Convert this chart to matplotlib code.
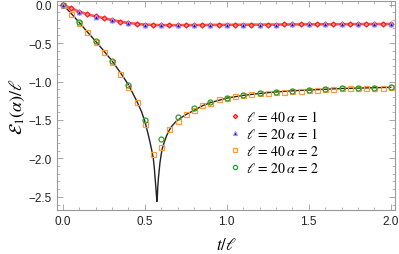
import numpy as np
import matplotlib
matplotlib.use("Agg")
from matplotlib import pyplot as plt
from matplotlib.ticker import MultipleLocator

plt.rcParams['mathtext.fontset'] = 'stix'
plt.rcParams['font.family'] = ['Liberation Sans', 'DejaVu Sans']

# ell = 40, alpha = 1 (step 0.05)
t40 = np.round(np.arange(0, 2.0001, 0.05), 2)
e40_a1 = [0.0, -0.045, -0.09, -0.125, -0.152, -0.175, -0.20, -0.22, -0.237, -0.248,
          -0.258, -0.263, -0.265, -0.266, -0.266, -0.265, -0.265, -0.264, -0.263, -0.262,
          -0.261, -0.261, -0.26, -0.259, -0.259, -0.258, -0.258, -0.257, -0.257, -0.256,
          -0.256, -0.255, -0.255, -0.254, -0.254, -0.253, -0.253, -0.252, -0.252, -0.251,
          -0.251]
# ell = 40, alpha = 2
e40_a2 = [0.0, -0.12, -0.235, -0.36, -0.48, -0.61, -0.74, -0.90, -1.07, -1.27,
          -1.55, -1.94, -1.85, -1.62, -1.51, -1.42, -1.37, -1.31, -1.28, -1.23,
          -1.21, -1.19, -1.17, -1.16, -1.15, -1.145, -1.14, -1.13, -1.125, -1.12,
          -1.11, -1.105, -1.10, -1.10, -1.09, -1.09, -1.085, -1.085, -1.08, -1.08,
          -1.075]

# ell = 20 (step 0.1)
t20 = np.round(np.arange(0, 2.0001, 0.1), 1)
e20_a1 = [0.0, -0.09, -0.155, -0.20, -0.24, -0.26, -0.267, -0.267, -0.266, -0.264,
          -0.262, -0.26, -0.259, -0.258, -0.257, -0.256, -0.255, -0.254, -0.253, -0.252,
          -0.251]
e20_a2 = [0.0, -0.23, -0.475, -0.73, -1.04, -1.50, -1.75, -1.46, -1.34, -1.27,
          -1.21, -1.17, -1.15, -1.14, -1.125, -1.11, -1.10, -1.09, -1.085, -1.08,
          -1.075]

# analytic curve (alpha = 2)
t_th = [0.0, 0.05, 0.1, 0.15, 0.2, 0.25, 0.3, 0.35, 0.4, 0.45, 0.48, 0.502, 0.52,
        0.532, 0.542, 0.552, 0.558, 0.563, 0.568, 0.571, 0.574, 0.577, 0.579, 0.583,
        0.588, 0.593, 0.6, 0.607, 0.62, 0.634, 0.65, 0.665, 0.69, 0.715, 0.75, 0.787,
        0.857, 0.9, 0.95, 1.0, 1.1, 1.2, 1.3, 1.4, 1.5, 1.6, 1.7, 1.8, 1.9, 2.0]
e_th = [0.0, -0.11, -0.23, -0.355, -0.475, -0.60, -0.73, -0.88, -1.04, -1.25, -1.39,
        -1.53, -1.68, -1.79, -1.89, -2.0, -2.12, -2.26, -2.39, -2.48, -2.56, -2.48,
        -2.38, -2.26, -2.15, -2.05, -1.95, -1.87, -1.78, -1.70, -1.63, -1.58, -1.52,
        -1.48, -1.43, -1.39, -1.31, -1.275, -1.245, -1.215, -1.18, -1.155, -1.135,
        -1.12, -1.11, -1.10, -1.09, -1.085, -1.08, -1.075]

labels = [r'$\ell\, =\, 40\, \alpha\, =\, 1$', r'$\ell\, =\, 20\, \alpha\, =\, 1$',
          r'$\ell\, =\, 40\, \alpha\, =\, 2$', r'$\ell\, =\, 20\, \alpha\, =\, 2$']

fig = plt.figure(figsize=(3.99, 2.55), dpi=100)
ax = fig.add_axes([0.143, 0.173, 0.847, 0.819])

ax.plot(t_th, e_th, color='#222222', lw=1.0, zorder=2)
ax.plot(t40, e40_a1, color='#ff3030', lw=1.9, alpha=0.8, zorder=3)

ax.plot(t40, e40_a2, 's', ms=3.6, mfc='none', mec='#ff9a3c', mew=0.9, zorder=4, label=labels[2])
ax.plot(t20, e20_a2, 'o', ms=3.6, mfc='none', mec='#2aa02a', mew=0.9, zorder=5, label=labels[3])
ax.plot(t40, e40_a1, 'D', ms=2.6, mfc='#ff9090', mec='#ff1010', mew=0.8, zorder=6, label=labels[0])
ax.plot(t20, e20_a1, '^', ms=3.4, mfc='#1010c0', mec='#9a9aff', mew=0.8, zorder=7, label=labels[1])

h, l = ax.get_legend_handles_labels()
order = [2, 3, 0, 1]
leg = ax.legend([h[i] for i in order], [l[i] for i in order], loc='upper left',
                bbox_to_anchor=(0.476, 0.545), frameon=False, fontsize=10,
                handlelength=0.6, handletextpad=0.5, labelspacing=0.2, markerscale=0.85)

ax.set_xlim(-0.035, 2.026)
ax.set_ylim(-2.67, 0.048)
ax.xaxis.set_major_locator(MultipleLocator(0.5))
ax.xaxis.set_minor_locator(MultipleLocator(0.1))
ax.yaxis.set_major_locator(MultipleLocator(0.5))
ax.yaxis.set_minor_locator(MultipleLocator(0.1))
ax.xaxis.set_major_formatter(plt.FuncFormatter(lambda v, p: '%.1f' % v))
ax.yaxis.set_major_formatter(plt.FuncFormatter(lambda v, p: ('%.1f' % v).replace('-', '\u2212')))
ax.tick_params(which='both', direction='in', top=True, right=True, color='#999999',
               labelsize=8.5, labelcolor='#222222')
ax.tick_params(which='major', length=4, width=0.6)
ax.tick_params(which='minor', length=2, width=0.5)
for s in ax.spines.values():
    s.set_color('#999999')
    s.set_linewidth(0.8)

ax.set_xlabel(r'$t/\ell$', fontsize=12, labelpad=7)
ax.set_ylabel(r'$\mathcal{E}_1(\alpha)/\ell$', fontsize=13, labelpad=1)

fig.savefig('out.png', dpi=100)
